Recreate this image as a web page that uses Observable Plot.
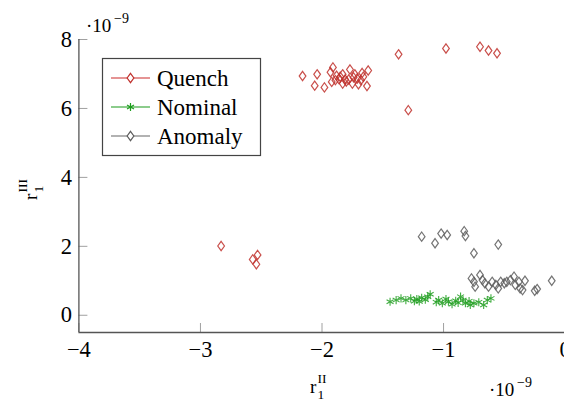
<!DOCTYPE html>
<html>
<head>
<meta charset="utf-8">
<script src="https://cdn.jsdelivr.net/npm/d3@7"></script>
<script src="https://cdn.jsdelivr.net/npm/@observablehq/plot@0.6"></script>
<style>
  html, body { margin: 0; padding: 0; background: #fff; overflow: hidden; }
</style>
</head>
<body>
<div id="chart"></div>
<script>
// values in units of 1e-9
const quenchX = [-2.16, -2.04, -2.06, -1.98, -1.93, -1.91, -1.92, -1.89, -1.86, -1.83, -1.83, -1.81, -1.77, -1.78, -1.75, -1.73, -1.71, -1.70, -1.67, -1.68, -1.66, -1.62, -1.63, -1.85, -1.80, -1.74, -1.88, -1.37, -1.29, -0.98, -0.70, -0.63, -0.56, -2.83, -2.57, -2.53, -2.54];
const quenchY = [6.94, 6.99, 6.66, 6.61, 7.05, 7.19, 6.77, 6.82, 6.85, 6.99, 6.72, 6.84, 7.13, 6.84, 6.72, 6.99, 6.87, 6.70, 7.03, 6.82, 6.92, 7.10, 6.65, 6.92, 6.78, 6.90, 6.95, 7.57, 5.95, 7.74, 7.79, 7.68, 7.60, 2.01, 1.62, 1.75, 1.48];

const nominalX = [-1.44, -1.39, -1.35, -1.31, -1.27, -1.24, -1.22, -1.18, -1.13, -1.11, -1.04, -1.01, -0.98, -0.96, -0.93, -0.86, -0.84, -0.82, -0.79, -0.75, -0.71, -0.67, -0.64, -0.61, -1.20, -1.06, -0.90, -0.78, -0.88, -1.15];
const nominalY = [0.39, 0.44, 0.49, 0.44, 0.49, 0.41, 0.47, 0.51, 0.54, 0.61, 0.44, 0.35, 0.47, 0.39, 0.32, 0.54, 0.44, 0.35, 0.41, 0.35, 0.38, 0.30, 0.44, 0.49, 0.40, 0.38, 0.42, 0.30, 0.36, 0.45];

const anomalyX = [-1.18, -1.07, -1.02, -0.97, -0.83, -0.82, -0.75, -0.55, -0.77, -0.75, -0.74, -0.70, -0.68, -0.66, -0.63, -0.60, -0.57, -0.55, -0.53, -0.50, -0.48, -0.45, -0.42, -0.41, -0.38, -0.37, -0.35, -0.33, -0.25, -0.23, -0.11];
const anomalyY = [2.28, 2.09, 2.37, 2.33, 2.44, 2.30, 1.80, 2.05, 1.07, 0.97, 0.83, 1.17, 1.02, 0.93, 0.83, 0.97, 0.88, 0.78, 0.97, 0.93, 0.97, 1.02, 1.12, 0.88, 0.97, 0.78, 0.73, 1.00, 0.71, 0.76, 1.00];

const xTicks = [-4, -3, -2, -1, 0];
const yTicks = [0, 2, 4, 6, 8];
const seriesNames = ["Quench", "Nominal", "Anomaly"];

const colors = { Quench: "#c0302c", Nominal: "#1e9e1e", Anomaly: "#5c5c5c" };
const lineColors = { Quench: "#cc2a2a", Nominal: "#1a9a1a", Anomaly: "#666666" };

const rows = (xs, ys, s) => xs.map((x, i) => ({ x, y: ys[i], series: s }));
const quench = rows(quenchX, quenchY, "Quench");
const nominal = rows(nominalX, nominalY, "Nominal");
const anomaly = rows(anomalyX, anomalyY, "Anomaly");

// tall diamond like pgfplots "diamond"
const diamond = {
  draw(ctx, size) {
    const h = Math.sqrt(size) * 0.656;
    const w = h * 0.72;
    ctx.moveTo(0, -h); ctx.lineTo(w, 0); ctx.lineTo(0, h); ctx.lineTo(-w, 0); ctx.closePath();
  }
};

const font = "'Liberation Serif', 'DejaVu Serif', serif";
const fmt = d3.format("d");

const chart = Plot.plot({
  width: 564,
  height: 401,
  marginLeft: 78.4,
  marginRight: 0,
  marginTop: 39,
  marginBottom: 69,
  style: { fontFamily: font, background: "white", color: "black" },
  x: { domain: [-4, 0], range: [78.4, 564.6] },
  y: { domain: [-0.5, 8] },
  marks: [
    Plot.axisX({ ticks: xTicks, tickSize: -9, fill: "none", stroke: "#a0a0a0", label: null }),
    Plot.axisY({ ticks: yTicks, tickSize: -9, fill: "none", stroke: "#a0a0a0", label: null }),
    Plot.axisX({ ticks: xTicks, tickSize: 0, tickPadding: 9, tickFormat: fmt, fontSize: 22.5, fill: "black", label: null }),
    Plot.axisY({ ticks: yTicks, tickSize: 0, tickPadding: 7, tickFormat: fmt, fontSize: 22.5, fill: "black", label: null }),
    Plot.ruleX([-4], { stroke: "#555", strokeWidth: 1.3 }),
    Plot.ruleY([-0.5], { stroke: "#555", strokeWidth: 1.3 }),
    Plot.dot(quench, { x: "x", y: "y", symbol: diamond, r: 4, stroke: colors.Quench, strokeWidth: 1.2, strokeOpacity: 0.85 }),
    Plot.dot(anomaly, { x: "x", y: "y", symbol: diamond, r: 4, stroke: colors.Anomaly, strokeWidth: 1.2, strokeOpacity: 0.85 }),
    Plot.dot(nominal, { x: "x", y: "y", symbol: "asterisk", r: 3.8, stroke: colors.Nominal, strokeWidth: 1.1, strokeOpacity: 0.85 })
  ]
});

document.getElementById("chart").appendChild(chart);

const svg = d3.select(chart);
const ann = svg.append("g").attr("font-family", font).attr("fill", "black").attr("text-anchor", "start");

// x label r_1^{II}
const xl = ann.append("g").attr("transform", "translate(310,393)");
xl.append("text").attr("font-size", 19).text("r");
xl.append("text").attr("x", 7.5).attr("y", 6).attr("font-size", 13.5).text("1");
xl.append("text").attr("x", 7.5).attr("y", -10).attr("font-size", 13.5).text("II");

// y label r_1^{III}
const yl = ann.append("g").attr("transform", "translate(37,200) rotate(-90)");
yl.append("text").attr("font-size", 19).text("r");
yl.append("text").attr("x", 7.5).attr("y", 6).attr("font-size", 13.5).text("1");
yl.append("text").attr("x", 7.5).attr("y", -10).attr("font-size", 13.5).text("III");

// multipliers ·10^-9
function mult(x, y) {
  const g = ann.append("g").attr("transform", `translate(${x},${y})`);
  g.append("text").attr("font-size", 19).text("·10");
  g.append("text").attr("x", 28).attr("y", -9).attr("font-size", 14).text("−9");
}
mult(86, 32);
mult(489, 396);

// legend
const leg = svg.append("g").attr("font-family", font).attr("text-anchor", "start");
leg.append("rect").attr("x", 102.5).attr("y", 58.5).attr("width", 158).attr("height", 97)
  .attr("fill", "white").attr("stroke", "#444").attr("stroke-width", 1.2);
const symPath = {
  Quench: d3.symbol(diamond, 50.3)(),
  Nominal: d3.symbol(d3.symbolAsterisk, 3.8 * 3.8 * Math.PI)(),
  Anomaly: d3.symbol(diamond, 50.3)()
};
seriesNames.forEach((s, i) => {
  const cy = 78 + i * 29;
  leg.append("line").attr("x1", 111).attr("x2", 150).attr("y1", cy).attr("y2", cy)
    .attr("stroke", lineColors[s]).attr("stroke-width", 1.2);
  leg.append("path").attr("d", symPath[s]).attr("transform", `translate(130.5,${cy})`)
    .attr("fill", "white").attr("stroke", colors[s]).attr("stroke-width", 1.2);
  leg.append("text").attr("x", 157).attr("y", cy + 7.5).attr("font-size", 23).attr("fill", "black").text(s);
});
</script>
</body>
</html>
